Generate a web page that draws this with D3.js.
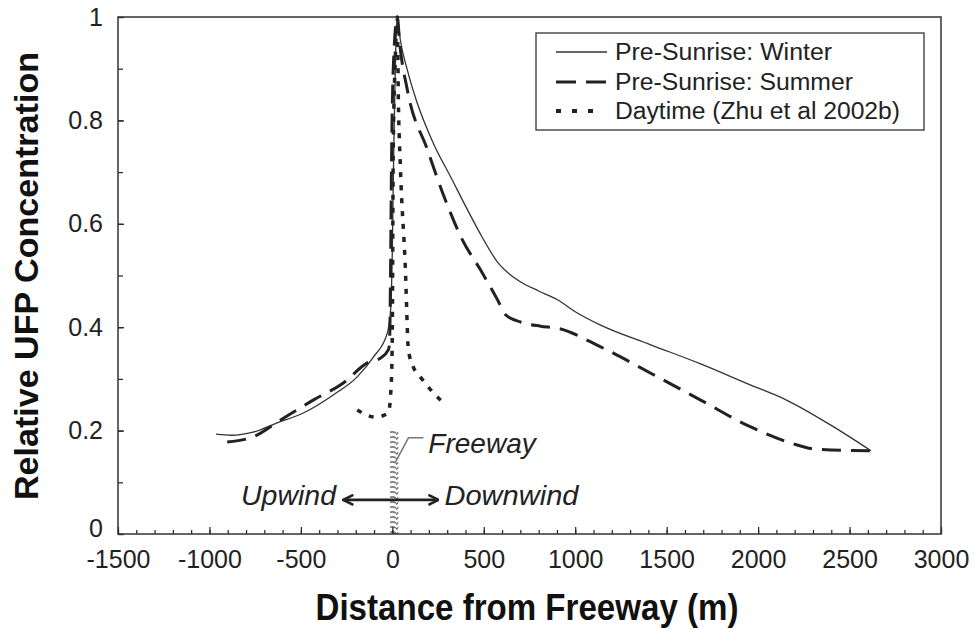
<!DOCTYPE html>
<html><head><meta charset="utf-8">
<script src="https://cdn.jsdelivr.net/npm/d3@7/dist/d3.min.js"></script>
<style>
html,body{margin:0;padding:0;background:#fff;}
svg{display:block;font-family:"Liberation Sans",Arial,sans-serif;}
</style></head>
<body><svg id="chart" width="974" height="629"></svg>
<script>
// ---- data ----
const winterX = [-964,-880,-761,-630,-487,-323,-192,-104,-27,-8,0,8,18,27,44,80,131,224,320,411,490,575,640,700,800,903,1000,1139,1413,1686,1960,2150,2400,2617];
const winterY = [0.193,0.191,0.197,0.215,0.234,0.269,0.304,0.342,0.389,0.44,0.55,0.75,0.93,1.0,0.955,0.9,0.839,0.756,0.69,0.627,0.575,0.526,0.503,0.488,0.47,0.453,0.43,0.404,0.366,0.329,0.288,0.26,0.21,0.161];
const summerX = [-903,-761,-613,-433,-268,-137,-66,-22,-15,-10,-5,5,27,40,82,192,290,383,482,575,619,701,810,903,1139,1413,1686,1960,2179,2316,2617];
const summerY = [0.178,0.188,0.22,0.259,0.292,0.331,0.34,0.356,0.37,0.5,0.7,0.9,1.0,0.95,0.859,0.743,0.646,0.569,0.511,0.453,0.424,0.41,0.402,0.398,0.362,0.311,0.259,0.207,0.176,0.164,0.161];
const dayX = [-192,-93,-22,-5,0,5,16,27,33,44,71,88,115,153,225,290];
const dayY = [0.24,0.226,0.234,0.298,0.395,0.743,0.917,1.0,0.84,0.71,0.516,0.356,0.323,0.304,0.273,0.25];
const seriesNames = ["Pre-Sunrise: Winter","Pre-Sunrise: Summer","Daytime (Zhu et al 2002b)"];
const xTickValues = [-1500,-1000,-500,0,500,1000,1500,2000,2500,3000];
const xTickLabels = ["-1500","-1000","-500","0","500","1000","1500","2000","2500","3000"];
const yTickValues = [0,0.2,0.4,0.6,0.8,1];
const yTickLabels = ["0","0.2","0.4","0.6","0.8","1"];
const freewayX = [-12,33];
const freewayTop = 0.2;

// ---- layout ----
const svg = d3.select("#chart");
const L = 118, R = 941, T = 17, B = 534;
const x = d3.scaleLinear().domain([-1500,3000]).range([L,R]);
const y = d3.scaleLinear().domain([0,1]).range([B,T]);
const ink = "#222";

const defs = svg.append("defs");
const pat = defs.append("pattern").attr("id","hatch").attr("patternUnits","userSpaceOnUse")
  .attr("width",9).attr("height",5);
pat.append("path").attr("d","M0,4.5 Q4,0 9,3").attr("fill","none").attr("stroke","#7a7a7a").attr("stroke-width",1.6);
["arrowS","arrowE"].forEach((id,i)=>{
  defs.append("marker").attr("id",id).attr("viewBox","0 0 12 12").attr("refX",11).attr("refY",6)
   .attr("markerWidth",12).attr("markerHeight",12).attr("markerUnits","userSpaceOnUse").attr("orient","auto-start-reverse")
   .append("path").attr("d","M1,1 L11,6 L1,11").attr("fill","none").attr("stroke",ink).attr("stroke-width",2.6);
});

// freeway strip
svg.append("rect").attr("x",x(freewayX[0])).attr("y",y(freewayTop))
  .attr("width",x(freewayX[1])-x(freewayX[0])).attr("height",y(0)-y(freewayTop))
  .attr("fill","url(#hatch)");

// axes (separate groups for minor and major ticks)
svg.append("g").attr("transform",`translate(0,${B})`)
  .call(d3.axisBottom(x).tickValues(d3.range(-1500,3001,100)).tickSize(-4).tickFormat(""));
const gx = svg.append("g").attr("transform",`translate(0,${B})`)
  .call(d3.axisBottom(x).tickValues(xTickValues).tickSize(-7).tickPadding(16).tickFormat((d,i)=>xTickLabels[i]));
svg.append("g").attr("transform",`translate(${L},0)`)
  .call(d3.axisLeft(y).tickValues(d3.range(0,1.01,0.1)).tickSize(-5).tickFormat(""));
const gy = svg.append("g").attr("transform",`translate(${L},0)`)
  .call(d3.axisLeft(y).tickValues(yTickValues).tickSize(-6).tickPadding(15).tickFormat((d,i)=>yTickLabels[i]));
svg.selectAll(".domain").remove();
svg.selectAll(".tick line").attr("stroke",ink).attr("stroke-width",1.2);
svg.selectAll(".tick text").attr("font-family","Liberation Sans, Arial, sans-serif").attr("font-size",25).attr("fill","#222");
gy.selectAll(".tick text").filter(d=>d===0).attr("dy","0.1em");
svg.append("rect").attr("x",L).attr("y",T).attr("width",R-L).attr("height",B-T)
  .attr("fill","none").attr("stroke","#333").attr("stroke-width",1.5);

// lines
const line = d3.line().x(d=>x(d[0])).y(d=>y(d[1])).curve(d3.curveMonotoneX);
const zip = (a,b)=>a.map((v,i)=>[v,b[i]]);
svg.append("path").attr("d",line(zip(winterX,winterY))).attr("fill","none").attr("stroke","#333").attr("stroke-width",1.3);
svg.append("path").attr("d",line(zip(summerX,summerY))).attr("fill","none").attr("stroke",ink).attr("stroke-width",3).attr("stroke-dasharray","19,10");
svg.append("path").attr("d",line(zip(dayX,dayY))).attr("fill","none").attr("stroke",ink).attr("stroke-width",3.5).attr("stroke-dasharray","5,8");

// freeway annotation
svg.append("path").attr("d",`M${x(17)},${y(0.139)} L${x(88)},${y(0.186)} L${x(170)},${y(0.186)}`)
  .attr("fill","none").attr("stroke","#777").attr("stroke-width",1.5);
svg.append("text").attr("x",x(197)).attr("y",y(0.157)).attr("font-size",28).attr("font-style","italic").attr("fill",ink).text("Freeway");
svg.append("line").attr("x1",x(-268)).attr("x2",x(252)).attr("y1",y(0.066)).attr("y2",y(0.066))
  .attr("stroke",ink).attr("stroke-width",2.6).attr("marker-start","url(#arrowS)").attr("marker-end","url(#arrowE)");
svg.append("text").attr("x",x(-308)).attr("y",y(0.056)).attr("text-anchor","end").attr("font-size",28).attr("font-style","italic").attr("fill",ink)
  .attr("textLength",95).attr("lengthAdjust","spacingAndGlyphs").text("Upwind");
svg.append("text").attr("x",x(285)).attr("y",y(0.056)).attr("font-size",28).attr("font-style","italic").attr("fill",ink)
  .attr("textLength",134).attr("lengthAdjust","spacingAndGlyphs").text("Downwind");

// legend
const lg = svg.append("g");
lg.append("rect").attr("x",536).attr("y",33).attr("width",388).attr("height",97).attr("fill","#fff").attr("stroke","#333").attr("stroke-width",1.3);
const legStyles = [
  {w:1.3,d:null,c:"#333"},
  {w:3,d:"20,10",c:ink},
  {w:4,d:"5,11",c:ink}
];
const legLens = [217,238,285];
const rowY = [52,82,111];
seriesNames.forEach((n,i)=>{
  const s = legStyles[i];
  const l = lg.append("line").attr("x1",556).attr("x2",i===2?598:607).attr("y1",rowY[i]).attr("y2",rowY[i])
    .attr("stroke",s.c).attr("stroke-width",s.w);
  if(s.d) l.attr("stroke-dasharray",s.d);
  lg.append("text").attr("x",615).attr("y",rowY[i]+8).attr("font-size",23).attr("fill",ink)
    .attr("textLength",legLens[i]).attr("lengthAdjust","spacingAndGlyphs").text(n);
});

// axis titles
svg.append("text").attr("x",527).attr("y",620).attr("text-anchor","middle").attr("font-size",37).attr("font-weight","bold")
  .attr("fill","#111").attr("textLength",423).attr("lengthAdjust","spacingAndGlyphs").text("Distance from Freeway (m)");
svg.append("text").attr("transform","translate(38,276) rotate(-90)").attr("text-anchor","middle").attr("font-size",33).attr("font-weight","bold")
  .attr("fill","#111").attr("textLength",448).attr("lengthAdjust","spacingAndGlyphs").text("Relative UFP Concentration");
</script></body></html>
